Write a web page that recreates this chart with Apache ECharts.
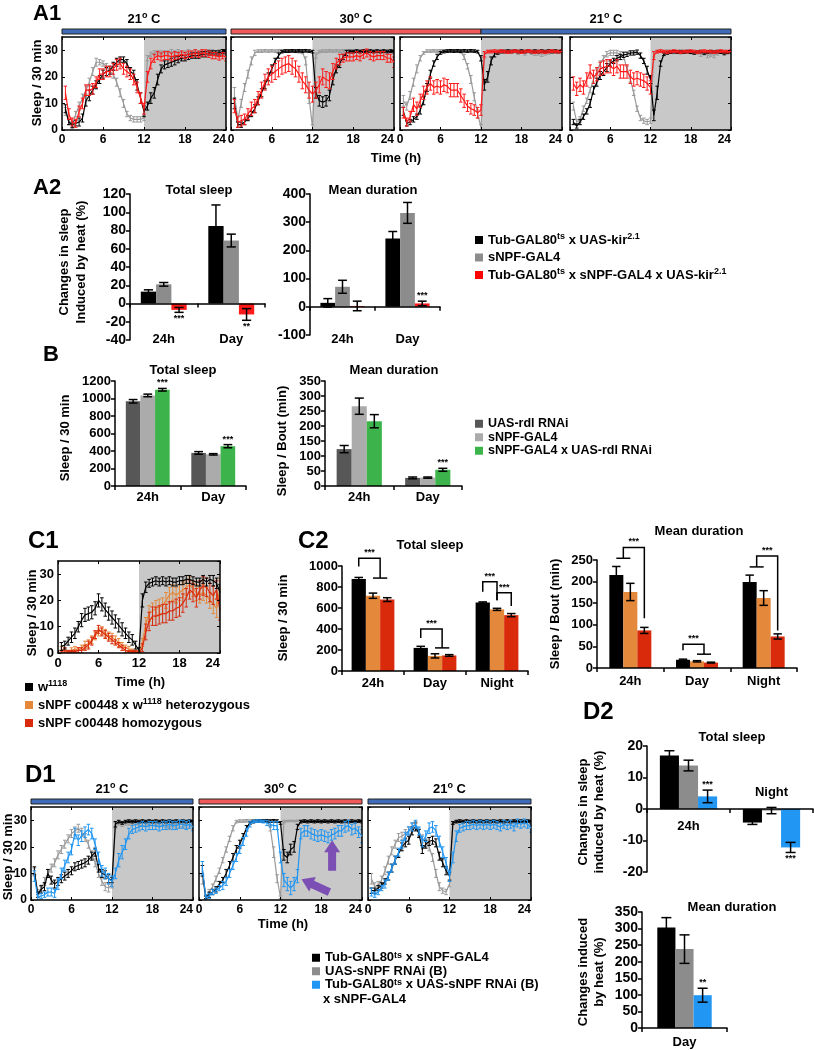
<!DOCTYPE html>
<html>
<head>
<meta charset="utf-8">
<title>sNPF sleep figure</title>
<script src="https://cdn.jsdelivr.net/npm/echarts/dist/echarts.min.js"></script>
<style>
html,body{margin:0;padding:0;background:#fff;}
#chart{width:814px;height:1050px;}
</style>
</head>
<body>
<div id="chart"></div>
<script>
// ======================= DATA =======================
const hours = [0.5,1,1.5,2,2.5,3,3.5,4,4.5,5,5.5,6,6.5,7,7.5,8,8.5,9,9.5,10,10.5,11,11.5,12,12.5,13,13.5,14,14.5,15,15.5,16,16.5,17,17.5,18,18.5,19,19.5,20,20.5,21,21.5,22,22.5,23,23.5,24];

// ---- A1: sleep profiles (4 days) ----
const a1p1Gray  = [7,3,1.5,6,9,12,15,18,22,25.5,25.5,25,24,22,21,18,14,10,6,4.5,4,4,4,4.5,27,28.5,29,29,29,29,29,29.5,29,29.5,29,29,29.5,29,29.5,29,29.5,29,29.5,29.5,29,29.5,29,28.5];
const a1p1GrayE = [1.5,1,1,1,1.5,1.5,1.5,1.5,1.5,1.5,1,1,1,1,1.5,1.5,1.5,1.5,1,1,1,1,1,1,1,0.8,0.8,0.8,0.8,0.8,0.8,0.8,0.8,0.8,0.8,0.8,0.8,0.8,0.8,0.8,0.8,0.8,0.8,0.8,0.8,0.8,0.8,0.8];
const a1p1Black = [8,3,2,2.5,3,4.5,11,13,15,17,19,21,22,22.5,24,25.5,26.5,26.5,25,22,21,17,12,7,9,12,14,19,23,24.5,25,25.5,26,26.5,27,27,27.5,28,28,28,28.5,28.5,29,29,29,29,29.5,29.5];
const a1p1BlackE= [1.5,1,1,1,1.5,1.5,2,2,1.5,1.5,1.5,1.5,1.5,1.5,1.5,1.5,1,1,1.5,1.5,1.5,2,2,2,1.5,2,2,2,1.5,1.5,1.5,1.5,1.5,1.2,1,1,1,1,1,1,1,1,0.8,0.8,0.8,0.8,0.8,0.8];
const a1p1Red   = [14,6,3,2.5,7,10,15,15,15.5,18,21,21,22,22,23,24.5,25,23,22,21,19,16,12,8,20,25,27,28,27.5,28,28,27.5,28,28,28.5,28,28.5,28.5,29,28.5,29,29,28.5,28,28,27.5,28,27.5];
const a1p1RedE  = [2.5,2,1.5,1.5,2,2,2,2,2,2,2,2,2,2,2,2,2,2,2,2,2,2,2,2,2,2,1.5,1.5,1.5,1.5,1.5,1.5,1.5,1.2,1.2,1.2,1.2,1.2,1.2,1.2,1.2,1.2,1.2,1.2,1.2,1.2,1.2,1.5];

const a1p2Gray  = [13,4,10,16,21,26,29,29.7,29.7,29.8,29.7,29.8,29.7,29.8,29.7,29.8,29.7,29.8,29.7,29.5,29.5,26,12,1,28,29.5,29.7,29.7,29.8,29.7,29.8,29.7,29.8,29.7,29.8,29.7,29.8,29.7,29.8,29.7,29.8,29.7,29.8,29.7,29.8,29.7,29.8,29.7];
const a1p2GrayE = [3,1,1.5,1.5,1.5,1.5,1,0.5,0.5,0.5,0.5,0.5,0.5,0.5,0.5,0.5,0.5,0.5,0.5,0.5,0.8,1.5,2,1,1,0.5,0.5,0.5,0.5,0.5,0.5,0.5,0.5,0.5,0.5,0.5,0.5,0.5,0.5,0.5,0.5,0.5,0.5,0.5,0.5,0.5,0.5,0.5];
const a1p2Black = [10,2,2,3,4.5,6,8,11,14,17,20,23,26,28,29.5,29.7,29.7,29.8,29.7,29.8,29.7,29.8,29.7,29.5,14,11,10.5,11,13,19,23,25,27.5,29,29.5,29.5,29.7,29.5,29.7,29.5,29.7,29.5,29.7,29.5,29.7,29.5,29.7,29.5];
const a1p2BlackE= [2,1,1,1,1,1,1.5,1.5,1.5,1.5,1.5,1.5,1,1,0.5,0.5,0.5,0.5,0.5,0.5,0.5,0.5,0.5,0.5,2,2,2,2,2,2,1.5,1.5,1,1,0.5,0.5,0.5,0.5,0.5,0.5,0.5,0.5,0.5,0.5,0.5,0.5,0.5,0.5];
const a1p2Red   = [9,3,3.5,4,6,8,9,12,15,18,20,21,22,23,24,24.5,25,24,23,21,18.5,17,15,13.5,15,17,20,19,18.5,22,25,26.5,27,27.5,27.5,27.5,28,27.5,28.5,29,28,27.5,28,28,28,27,27,25.5];
const a1p2RedE  = [2.5,2,2,2,2,2.5,2.5,2.5,3,3,3,3,3,3,3,3,3,3,3,3,3,3,3,3,3,3,3,3,3,3,2,2,1.5,1.5,1.5,1.5,1.5,1.5,1.5,1.5,1.5,1.5,1.5,1.5,1.5,1.5,1.5,2];

const a1p3Gray  = [11,9,13,18,23,27,29,29.7,29.7,29.8,29.7,29.8,29.7,29.8,29.7,29.8,29.7,29.5,27.5,24,19,12.5,6,1,28,29.5,29.7,29.5,29.7,29.5,29.7,29.5,29.7,29.5,29.2,29.5,29,29.5,29.2,28.8,29,28.5,29,29.3,29.5,29.3,29.5,29.5];
const a1p3GrayE = [2,1.5,1.5,1.5,1.5,1,0.5,0.5,0.5,0.5,0.5,0.5,0.5,0.5,0.5,0.5,0.5,0.5,1,1,1.5,1.5,1.5,1,1,0.5,0.5,0.5,0.5,0.5,0.5,0.5,0.5,0.5,0.8,0.5,0.8,0.5,0.8,0.8,0.8,0.8,0.8,0.8,0.5,0.5,0.5,0.5];
const a1p3Black = [7,2.5,3,4,5,7.5,11,16,21,25,27.5,29,29.5,29.7,29.8,29.7,29.8,29.7,29.8,29.7,29.8,29.7,29.5,27,17,20,26,28.5,29,29.5,29.5,29.7,29.5,29.7,29.5,29.7,29.5,29.7,29.5,29.7,29.5,29.7,29.5,29.7,29.5,29.7,29.5,29.7];
const a1p3BlackE= [1.5,1,1,1,1,1.5,1.5,1.5,1.5,1,1,0.5,0.5,0.5,0.5,0.5,0.5,0.5,0.5,0.5,0.5,0.5,0.5,1,2,2,1.5,1,0.5,0.5,0.5,0.5,0.5,0.5,0.5,0.5,0.5,0.5,0.5,0.5,0.5,0.5,0.5,0.5,0.5,0.5,0.5,0.5];
const a1p3Red   = [6.5,3,5,9.5,8,11,14,16,17.5,16,16.5,16,17,16.5,15,15,15,13,11,9,8,7.5,6.5,7.5,28.5,29.5,29.5,29.7,29.5,29.7,29.5,29.3,29.5,29.7,29.5,29.3,29.5,29.7,29.5,29.3,29.5,29.5,29.3,29.5,29.7,29.5,29.5,29.7];
const a1p3RedE  = [2,1.5,2,2.5,2.5,2.5,2.5,2.5,2.5,2.5,2.5,2.5,2.5,2.5,2.5,2.5,2.5,2.5,2.5,2,2,2,2,2,1,0.5,0.5,0.5,0.5,0.5,0.5,0.5,0.5,0.5,0.5,0.5,0.5,0.5,0.5,0.5,0.5,0.5,0.5,0.5,0.5,0.5,0.5,0.5];

const a1p4Gray  = [9,3,4,8,11,15,19,22,25,27,28.5,29,29,29,28.5,27.5,23,19,14,8,4.5,3.5,3,3.5,28.5,29.5,29.7,29.5,29.7,29.5,29.2,29.5,29,29.5,29.5,29.2,29.5,29,28.5,29,28,28.5,28,29,29.3,29.5,29,29.5];
const a1p4GrayE = [1.5,1,1,1,1,1,1,1,1,1,1,1,1,1,1,1,1,1,1,1,1,1,1,1,1,0.5,0.5,0.5,0.5,0.5,0.5,0.5,0.5,0.5,0.5,0.5,0.5,0.5,0.8,0.8,0.8,0.8,0.8,0.8,0.5,0.5,0.5,0.5];
const a1p4Black = [3,1.5,3,5,7,10,15,18,20.5,22,23.5,25,26,27,27.5,28.3,28.5,29,29,29.3,28,26,22.5,19,5.5,14,25,28.5,29,29.3,29.5,29.3,29.5,29.3,29.5,29.3,29,29.3,29.5,29,29.3,29.5,29.3,29.5,29.3,28.8,29.3,29.5];
const a1p4BlackE= [1,0.8,1,1,1,1.5,1.5,1.5,1.5,1.5,1.5,1,1,1,1,1,0.8,0.8,0.8,0.8,1,1,1.5,1.5,2,2.5,1,0.5,0.5,0.5,0.5,0.5,0.5,0.5,0.5,0.5,0.5,0.5,0.5,0.5,0.5,0.5,0.5,0.5,0.5,0.5,0.5,0.5];
const a1p4Red   = [17.5,15.5,17,16,19,22,20,21,23,23.5,24,24,23,24,22,22,22,20,19,19.5,19,18.5,17.5,16,28,29.5,29.7,29.5,29.3,29.5,29.7,29.5,29.3,29.5,29.5,29.7,29.5,29.3,29.5,29.7,29.5,29.5,29.3,29.5,29.7,29.5,29.5,29.7];
const a1p4RedE  = [2.5,2.5,2.5,2.5,2.5,2.5,2.5,2.5,2.5,2.5,2.5,2.5,2.5,2.5,2.5,2.5,2.5,2.5,2.5,2.5,2.5,2.5,2.5,2.5,1.5,0.5,0.5,0.5,0.5,0.5,0.5,0.5,0.5,0.5,0.5,0.5,0.5,0.5,0.5,0.5,0.5,0.5,0.5,0.5,0.5,0.5,0.5,0.5];

// temperature protocol: [label, panel, hour] -> [panel, hour]
const a1Temps = [['21', 0, 0, 0, 24], ['30', 1, 0, 2, 12], ['21', 2, 12, 3, 24]];
const d1Temps = [['21', 0, 0, 0, 24], ['30', 1, 0, 1, 24], ['21', 2, 0, 2, 24]];

// ---- A2: heat-induced changes (%) ----
const a2Cats = ['24h', 'Day'];
const a2TotBlack = [13, 85],  a2TotBlackErr = [2, 23];
const a2TotGray  = [21, 69],  a2TotGrayErr  = [2, 7];
const a2TotRed   = [-7, -12], a2TotRedErr   = [2.7, 6.4];
const a2TotStars = ['***', '**'];
const a2MeanBlack = [14, 242], a2MeanBlackErr = [15, 25];
const a2MeanGray  = [71, 333], a2MeanGrayErr  = [23, 37];
const a2MeanRed   = [3, 12],   a2MeanRedErr   = [17, 8];
const a2MeanStars = ['', '***'];

// ---- B: rdl RNAi ----
const bCats = ['24h', 'Day'];
const bTotDark  = [968, 378],  bTotDarkErr  = [20, 15];
const bTotLight = [1035, 362], bTotLightErr = [15, 8];
const bTotGreen = [1100, 455], bTotGreenErr = [15, 18];
const bTotStars = ['***', '***'];
const bMeanDark  = [123, 27],  bMeanDarkErr  = [12, 3];
const bMeanLight = [266, 28],  bMeanLightErr = [27, 2];
const bMeanGreen = [216, 54],  bMeanGreenErr = [22, 5];
const bMeanStars = ['', '***'];

// ---- C1: sleep profile of mutants ----
const c1Black  = [2.5,3,4.5,6,7.5,10,12.5,14.5,15,15.5,17,20,18.5,16.5,15,13.5,12,10.5,9,7.5,6,5,3,1,20,25,26.5,27,27.5,27,27.5,27,27.5,27,27,27.5,27.5,28,28,27.5,27,27,28,27,28,27.5,26.5,23];
const c1BlackE = [1.5,1.5,1.5,2,2,2,2.5,2.5,2.5,2.5,2.5,2.5,2.5,2.5,2.5,2.5,2.5,2.5,2.5,2,2,2,1.5,1,2.5,2,1.5,1.5,1.5,1.5,1.5,1.5,1.5,1.5,1.5,1.5,1.5,1.5,1.5,1.5,1.5,1.5,1.5,1.5,1.5,2,2,3];
const c1Orange = [1.5,1,0.5,1,1.5,1,2,3,3.5,5,6.5,8,8.5,7.5,6.5,6,5,4,3,2,1.5,1,0.5,0.5,4,11,15,16,17,17.5,18,20,22,23,22,23,24,25,26,24.5,23,22,23,22,20,18.5,17,25];
const c1OrangeE= [1,1,0.5,1,1,1,1,1.5,1.5,1.5,1.5,1.5,1.5,1.5,1.5,1.5,1.5,1.5,1,1,1,0.5,0.5,0.5,1.5,2.5,3,3,3,3,3,3,3,3,3,3,3,3,3,3,3,3,3,3,3,3.5,3.5,3.5];
const c1Red    = [0.5,1,0.5,0.5,0.5,1,1,2,3,4.5,7,9,8,7,6,5,4,3,2,1,0.5,0.5,0.5,0,2,8,12,14,14,14.5,15,15,16,16,17,17.5,19,21,24,23,21,24,25.5,25,23,22,24,16];
const c1RedE   = [0.5,1,0.5,0.5,0.5,1,1,1,1.5,1.5,1.5,1.5,1.5,1.5,1.5,1.5,1,1,1,1,0.5,0.5,0.5,0.5,1.5,3,3.5,3.5,3.5,3.5,3.5,3.5,3.5,3.5,3.5,3.5,3.5,3.5,3.5,3.5,3.5,3.5,3.5,3.5,3.5,3.5,3.5,3.5];

// ---- C2: mutants totals ----
const c2Cats = ['24h', 'Day', 'Night'];
const c2TotBlack  = [876, 220, 652], c2TotBlackErr  = [15, 15, 6];
const c2TotOrange = [717, 144, 587], c2TotOrangeErr = [25, 20, 10];
const c2TotRed    = [680, 148, 532], c2TotRedErr    = [18, 8, 15];
const c2MeanBlack  = [215, 19, 199],   c2MeanBlackErr  = [20, 1.5, 16];
const c2MeanOrange = [176, 15.5, 162], c2MeanOrangeErr = [20, 1.5, 17];
const c2MeanRed    = [87, 12.5, 73],   c2MeanRedErr    = [7, 1, 6];
// significance brackets: [category, left-leg end, bracket top, right-leg end]
const c2TotBrackets  = [[0, 995, 1075, 885], [1, 315, 400, 220], [2, 755, 850, 675], [2, 675, 745, 618]];
const c2TotSides     = [[[0], [1, 2]], [[0], [1, 2]], [[0], [1]], [[1], [2]]];
const c2MeanBrackets = [[0, 254, 279, 115], [1, 41, 55, 32], [2, 234, 259, 87]];
const c2MeanSides    = [[[0, 1], [2]], [[0], [1, 2]], [[0, 1], [2]]];

// ---- D1: sleep profiles with sNPF RNAi ----
const d1p1Gray  = [10.5,3,4,7,10,12,14,17,19,21,23,25,26,27,25.5,23.5,21,17,14,10,7,5,4.5,6,28,29,28.5,29,29,29,29.2,29,28.8,29,29.2,29,28.5,29,28.5,28,27.5,28.5,28,28.5,28.5,28,28.5,27.5];
const d1p1GrayE = [1.5,1,1,1.5,1.5,1.5,1.5,1.5,1.5,1.5,1.5,1.5,1.5,1.5,1.5,1.5,1.5,1.5,1.5,1.5,1.5,1.5,1.5,1.5,1,0.8,0.8,0.8,0.8,0.8,0.8,0.8,0.8,0.8,0.8,0.8,0.8,0.8,0.8,0.8,1,1,1,1,1,1,1,1];
const d1p1Black = [11,2,4,5,10,7.5,6,7,8,9,10,11,12.5,13,13.5,14,15,16.5,18,12,10,9.5,8,7.5,28.5,29.5,29,29.5,29.7,29.5,29.7,29.5,29.7,29.5,29.7,29.5,29.7,29.5,29.7,29.5,29.7,29.5,29.7,29.5,29.7,29.5,29.7,29.5];
const d1p1BlackE= [1.5,1,1.5,1.5,1.5,1.5,1.5,1.5,1.5,1.5,1.5,1.5,1.5,1.5,1.5,1.5,1.5,1.5,1.5,1.5,1.5,1.5,1.5,1,1,0.5,0.5,0.5,0.5,0.5,0.5,0.5,0.5,0.5,0.5,0.5,0.5,0.5,0.5,0.5,0.5,0.5,0.5,0.5,0.5,0.5,0.5,0.5];
const d1p1Blue  = [9,1,1.5,2,3,3,2.5,6,10,13,16,19,25,22.5,24,25.5,26.5,25,21,16,11,10,8,7,10,15,18,21,25,26.5,27,27.5,28,27.5,28,28,28,27.5,28,28,28.5,28,28,28.5,28.5,28,28.5,27.5];
const d1p1BlueE = [2,1,1,1,1.5,1.5,1.5,2,2,2,2,2,2,2,2,2,2,2,2,2,2,2,2,2,2,2.5,2.5,2,2,1.5,1.5,1.5,1.5,1.5,1.5,1.5,1.5,1.5,1.5,1.5,1.5,1.5,1.5,1.5,1.5,1.5,1.5,1.5];

const d1p2Gray  = [8,1,3,5,8,11,15,19,23,27,29.5,29.7,29.7,29.8,29.7,29.8,29.7,29.8,29.7,29.8,27,18,8,1,29.5,29.7,29.8,29.7,29.8,29.7,29.8,29.7,29.8,29.7,29.8,29.7,29.8,29.7,29.8,29.7,29.8,29.7,29.8,29.7,29.8,29.7,29.8,29.7];
const d1p2GrayE = [2,0.5,1,1,1,1,1,1,1,1,0.5,0.5,0.5,0.5,0.5,0.5,0.5,0.5,0.5,0.5,1,2,1.5,0.5,0.5,0.3,0.3,0.3,0.3,0.3,0.3,0.3,0.3,0.3,0.3,0.3,0.3,0.3,0.3,0.3,0.3,0.3,0.3,0.3,0.3,0.3,0.3,0.3];
const d1p2Black = [11,1,2,3,4,6,7.5,10,13,16,19,21,24,27,29,29.5,29.7,29.8,29.7,29.8,29.7,29.8,29.7,29,17,16,19,20,27.5,29.5,29.7,29.5,29.7,29.5,29.7,29.5,29.7,29.5,29.7,29.5,29.7,29.5,29.7,29.5,29.7,29.5,29.7,29.5];
const d1p2BlackE= [2,0.5,1,1,1,1,1,1.5,1.5,1.5,1.5,1.5,1,1,0.5,0.5,0.5,0.5,0.5,0.5,0.5,0.5,0.5,0.5,2,2,2,2,1,0.5,0.5,0.5,0.5,0.5,0.5,0.5,0.5,0.5,0.5,0.5,0.5,0.5,0.5,0.5,0.5,0.5,0.5,0.5];
const d1p2Blue  = [12,1,1.5,3,3.5,4.5,5.5,7,10,13,16,19,22,25.5,28.5,29.5,29.7,29.7,29.5,29,28.5,28,28,16,7.5,6,4.5,6,9,25,26,26,25,24.5,24,24.5,24,23.5,24.5,25,26,26,27.5,28,26.5,27,25.5,24];
const d1p2BlueE = [2.5,1,1,1,1,1,1.5,1.5,1.5,1.5,1.5,1.5,1.5,1.5,1,0.5,0.5,0.5,0.5,1,1,1.5,1.5,2,2.5,2.5,2.5,2.5,2.5,2,2,2,2,2,2,2,2,2,2,2,2,2,2,2,2,2,2,2.5];
// purple arrows (tail hour, tail value, head hour, head value)
const d1Arrows = [[19.6, 11, 19.6, 22.5], [19.2, 3, 15.1, 7.8]];

const d1p3Gray  = [8,5,5.5,7.5,11,15,18.5,21,23.5,24,25,26,27.5,28.5,25.5,23,21.5,20,16,10,5,3.5,3,6,29,29.5,29.7,29.5,29.7,29.5,29.7,29.5,29.7,29.5,29.7,29.5,29.7,29.5,29.7,29.5,29.7,29.5,29.7,29.5,29.7,29.5,29.7,29.5];
const d1p3GrayE = [2,1.5,1.5,1.5,1.5,1.5,1.5,1.5,1.5,1.5,1.5,1.5,1.5,1,1.5,1.5,1.5,1.5,1.5,1.5,1.5,1,1,1,0.5,0.5,0.5,0.5,0.5,0.5,0.5,0.5,0.5,0.5,0.5,0.5,0.5,0.5,0.5,0.5,0.5,0.5,0.5,0.5,0.5,0.5,0.5,0.5];
const d1p3Black = [3.5,3.5,4.5,5.5,7,9,12,15,17.5,20,21.5,22.5,26,27.5,25,19,21,22,22.5,21.5,16.5,14,11,9,29,29.5,29.7,29.5,29.7,29.5,29.7,29.5,29.7,29.5,29.7,29.5,29.7,29.5,29.7,29.5,29.7,29.5,29.7,29.5,29.7,29.5,29.7,29.5];
const d1p3BlackE= [1,1,1,1,1,1.5,1.5,1.5,1.5,1.5,1.5,1.5,1.5,1.5,1.5,1.5,1.5,1.5,1.5,1.5,1.5,1.5,1.5,1.5,0.5,0.5,0.5,0.5,0.5,0.5,0.5,0.5,0.5,0.5,0.5,0.5,0.5,0.5,0.5,0.5,0.5,0.5,0.5,0.5,0.5,0.5,0.5,0.5];
const d1p3Blue  = [3,2,3,4.5,6,9,12,15,18,21,24,26,27.5,28.5,26,22,24,27,27.5,26,22,18,14,9,16,24,27,27.5,28,28,28.5,28,28.5,28,28.5,28,28.5,28,27.5,28.5,28,28.5,27.5,29,28.5,29,28.5,27];
const d1p3BlueE = [1.5,1,1,1,1.5,1.5,1.5,1.5,1.5,1.5,1.5,1.5,1.5,1.5,1.5,2,2,2,2,2,2,2,2,2,2,2,1.5,1.5,1.5,1.5,1.5,1.5,1.5,1.5,1.5,1.5,1.5,1.5,1.5,1.5,1.5,1.5,1.5,1.5,1.5,1.5,1.5,1.5];

// ---- D2: heat-induced changes ----
const d2TotCats = ['24h', 'Night'];
const d2TotBlack = [17, -4.3],  d2TotBlackErr = [1.5, 0.6];
const d2TotGray  = [13.8, -0.5], d2TotGrayErr = [1.7, 1];
const d2TotBlue  = [4, -12.2],  d2TotBlueErr  = [2, 1.6];
const d2TotStars = ['***', '***'];
const d2MeanCats = ['Day'];
const d2MeanBlack = [303], d2MeanBlackErr = [30];
const d2MeanGray  = [238], d2MeanGrayErr  = [43];
const d2MeanBlue  = [99],  d2MeanBlueErr  = [21];
const d2MeanStars = ['**'];

// ---- genotype names ----
const N_A_CTRL = 'Tub-GAL80ts x UAS-kir2.1';
const N_GAL4   = 'sNPF-GAL4';
const N_A_EXP  = 'Tub-GAL80ts x sNPF-GAL4 x UAS-kir2.1';
const N_B_CTRL = 'UAS-rdl RNAi';
const N_B_EXP  = 'sNPF-GAL4 x UAS-rdl RNAi';
const N_C_WT   = 'w1118';
const N_C_HET  = 'sNPF c00448 x w1118 heterozygous';
const N_C_HOM  = 'sNPF c00448 homozygous';
const N_D_CTRL = 'Tub-GAL80ts x sNPF-GAL4';
const N_D_RNAI = 'UAS-sNPF RNAi (B)';
const N_D_EXP  = 'Tub-GAL80ts x UAS-sNPF RNAi (B) x sNPF-GAL4';

// ======================= STYLE / BUILD =======================
const FONT = '"Liberation Sans", Arial, Helvetica, sans-serif';
const AX = {color: '#000', width: 1.5};
const COL = {black: '#000000', gray: '#9a9a9a', barGray: '#8c8c8c', red: '#ff1a1a',
  dark: '#575757', light: '#ababab', green: '#3cb44b', orange: '#e4883b', cred: '#d92b0c', blue: '#2196f3'};
const plain = v => String(v);

const richLabel = {};
richLabel[N_A_CTRL] = 'Tub-GAL80{sup|ts} x UAS-kir{sup|2.1}';
richLabel[N_A_EXP]  = 'Tub-GAL80{sup|ts} x sNPF-GAL4 x UAS-kir{sup|2.1}';
richLabel[N_C_WT]   = 'w{sup|1118}';
richLabel[N_C_HET]  = 'sNPF c00448 x w{sup|1118} heterozygous';
richLabel[N_D_CTRL] = 'Tub-GAL80{sup|ts} x sNPF-GAL4';
richLabel[N_D_EXP]  = 'Tub-GAL80{sup|ts} x UAS-sNPF RNAi (B)';

const grids = [], xAxes = [], yAxes = [], series = [], legends = [];

function lineErr(color) {
  return function (params, api) {
    const x = api.value(0), v = api.value(1), e = api.value(2);
    const a = api.coord([x, v + e]), b = api.coord([x, v - e]);
    const cw = 1.8;
    const st = () => ({stroke: color, lineWidth: 1});
    return {type: 'group', children: [
      {type: 'line', shape: {x1: a[0], y1: a[1], x2: b[0], y2: b[1]}, style: st()},
      {type: 'line', shape: {x1: a[0] - cw, y1: a[1], x2: a[0] + cw, y2: a[1]}, style: st()},
      {type: 'line', shape: {x1: b[0] - cw, y1: b[1], x2: b[0] + cw, y2: b[1]}, style: st()}
    ]};
  };
}

function linePanel(box, showY, fs, traces) {
  const gi = grids.length;
  grids.push({left: box[0], top: box[1], width: box[2], height: box[3], show: false, containLabel: false, outerBoundsMode: 'none'});
  const xi = xAxes.length, yi = yAxes.length;
  const tick = {show: true, inside: true, length: 3, lineStyle: {color: '#000', width: 1}};
  const xb = {type: 'value', gridIndex: gi, min: 0, max: 24, interval: 6, z: 5, splitLine: {show: false},
    axisLine: {show: true, onZero: false, lineStyle: AX}, axisTick: tick};
  xAxes.push(Object.assign({}, xb, {position: 'bottom',
    axisLabel: {show: true, color: '#000', fontSize: fs, fontWeight: 'bold', fontFamily: FONT, margin: 4, alignMaxLabel: 'right', formatter: plain}}));
  xAxes.push(Object.assign({}, xb, {position: 'top', axisLabel: {show: false}}));
  const yb = {type: 'value', gridIndex: gi, min: 0, max: 35, interval: 10, z: 5, splitLine: {show: false},
    axisLine: {show: true, onZero: false, lineStyle: AX}, axisTick: tick};
  yAxes.push(Object.assign({}, yb, {position: 'left',
    axisLabel: {show: showY, color: '#000', fontSize: fs, fontWeight: 'bold', fontFamily: FONT, margin: 4, showMaxLabel: false, formatter: plain}}));
  yAxes.push(Object.assign({}, yb, {position: 'right', axisLabel: {show: false}}));
  traces.forEach(function (tr, k) {
    const s = {type: 'line', xAxisIndex: xi, yAxisIndex: yi, data: hours.map((h, i) => [h, tr.v[i]]),
      symbol: 'none', showSymbol: false, lineStyle: {color: tr.c, width: 1.2}, itemStyle: {color: tr.c}, z: 3 + k, silent: true};
    if (k === 0) s.markArea = {silent: true, itemStyle: {color: '#c8c8c8'}, data: [[{xAxis: 12}, {xAxis: 24}]]};
    series.push(s);
    series.push({type: 'custom', xAxisIndex: xi, yAxisIndex: yi, z: 3 + k, silent: true, clip: true,
      data: hours.map((h, i) => [h, tr.v[i], tr.e[i]]), renderItem: lineErr(tr.c)});
  });
  return {gi: gi, xi: xi, yi: yi};
}

function barErr(n, gap, meta, starSize) {
  return function (params, api) {
    const m = meta[params.dataIndex];
    const i = api.value(0), v = api.value(1), e = api.value(2);
    const band = api.size([1, 0])[0];
    const bw = band * (1 - gap) / n;
    const x = api.coord([i, 0])[0] + (m.k - (n - 1) / 2) * bw;
    const yt = api.coord([i, v + e])[1], yb = api.coord([i, v - e])[1];
    const cw = Math.min(bw * 0.3, 5);
    const st = () => ({stroke: '#000', lineWidth: 1.5});
    const ch = [
      {type: 'line', shape: {x1: x, y1: yt, x2: x, y2: yb}, style: st()},
      {type: 'line', shape: {x1: x - cw, y1: yt, x2: x + cw, y2: yt}, style: st()},
      {type: 'line', shape: {x1: x - cw, y1: yb, x2: x + cw, y2: yb}, style: st()}
    ];
    if (m.star) {
      ch.push({type: 'text', x: x, y: m.up ? yt - 1 : yb + 2, style: {text: m.star, fill: '#000',
        font: 'bold ' + starSize + 'px ' + FONT, align: 'center', textAlign: 'center',
        verticalAlign: m.up ? 'bottom' : 'top', textVerticalAlign: m.up ? 'bottom' : 'top'}});
    }
    return {type: 'group', children: ch};
  };
}

function bracketRender(n, gap, sides) {
  return function (params, api) {
    const sd = sides[params.dataIndex];
    const cat = api.value(0);
    const band = api.size([1, 0])[0];
    const bw = band * (1 - gap) / n;
    const c0 = api.coord([cat, 0])[0];
    const xc = k => c0 + (k - (n - 1) / 2) * bw;
    const grp = arr => (xc(arr[0]) + xc(arr[arr.length - 1])) / 2;
    const xl = grp(sd[0]), xr = grp(sd[1]);
    const yl = api.coord([cat, api.value(1)])[1], yt = api.coord([cat, api.value(2)])[1], yr = api.coord([cat, api.value(3)])[1];
    const st = () => ({stroke: '#000', lineWidth: 1.5, fill: null});
    const ch = [{type: 'polyline', shape: {points: [[xl, yl], [xl, yt], [xr, yt], [xr, yr]]}, style: st()}];
    if (sd[0].length > 1) ch.push({type: 'line', shape: {x1: xc(sd[0][0]), y1: yl, x2: xc(sd[0][sd[0].length - 1]), y2: yl}, style: st()});
    if (sd[1].length > 1) ch.push({type: 'line', shape: {x1: xc(sd[1][0]), y1: yr, x2: xc(sd[1][sd[1].length - 1]), y2: yr}, style: st()});
    ch.push({type: 'text', x: (xl + xr) / 2, y: yt - 1, style: {text: '***', fill: '#000', font: 'bold 9px ' + FONT,
      align: 'center', textAlign: 'center', verticalAlign: 'bottom', textVerticalAlign: 'bottom'}});
    return {type: 'group', children: ch};
  };
}

function barChart(cfg) {
  const gi = grids.length;
  grids.push({left: cfg.box[0], top: cfg.box[1], width: cfg.box[2], height: cfg.box[3], show: false, containLabel: false, outerBoundsMode: 'none'});
  const xa = xAxes.length;
  const lab = {color: '#000', fontSize: 13, fontWeight: 'bold', fontFamily: FONT};
  const base = {type: 'category', gridIndex: gi, data: cfg.cats, z: 5, splitLine: {show: false}};
  const mainLine = {show: true, onZero: true, lineStyle: AX};
  const mainTick = {show: true, length: 4, lineStyle: AX};
  if (cfg.mode === 'normal') {
    xAxes.push(Object.assign({}, base, {position: 'bottom', axisLine: mainLine, axisTick: mainTick,
      axisLabel: Object.assign({margin: cfg.lm}, lab)}));
  } else if (cfg.mode === 'bottom') {
    xAxes.push(Object.assign({}, base, {position: 'bottom', axisLine: mainLine, axisTick: mainTick, axisLabel: {show: false}}));
    xAxes.push(Object.assign({}, base, {position: 'bottom', axisLine: {show: false, onZero: false}, axisTick: {show: false},
      axisLabel: Object.assign({margin: cfg.lm}, lab)}));
  } else {
    xAxes.push(Object.assign({}, base, {position: 'bottom', axisLine: mainLine, axisTick: mainTick, axisLabel: {show: false}}));
  }
  const ya = yAxes.length;
  yAxes.push({type: 'value', gridIndex: gi, min: cfg.min, max: cfg.max, interval: cfg.interval, z: 5, position: 'left',
    splitLine: {show: false}, axisLine: {show: true, onZero: false, lineStyle: AX}, axisTick: {show: true, length: 4, lineStyle: AX},
    axisLabel: {color: '#000', fontSize: cfg.yfs, fontWeight: 'bold', fontFamily: FONT, margin: 4, formatter: plain}});
  const n = cfg.groups.length;
  cfg.groups.forEach(function (g) {
    series.push({type: 'bar', name: g.name, xAxisIndex: xa, yAxisIndex: ya, data: g.v, barGap: '0%',
      barCategoryGap: Math.round(cfg.gap * 100) + '%', itemStyle: {color: g.c}, z: 2, silent: true});
  });
  const meta = [], data = [];
  cfg.groups.forEach(function (g, k) {
    g.v.forEach(function (v, i) {
      data.push([i, v, g.e[i]]);
      meta.push({k: k, star: g.s ? g.s[i] : '', up: g.up ? g.up[i] : true});
    });
  });
  series.push({type: 'custom', xAxisIndex: xa, yAxisIndex: ya, z: 4, silent: true, clip: false, data: data,
    renderItem: barErr(n, cfg.gap, meta, cfg.sfs || 9)});
  if (cfg.brackets) {
    series.push({type: 'custom', xAxisIndex: xa, yAxisIndex: ya, z: 4, silent: true, clip: false, data: cfg.brackets,
      renderItem: bracketRender(n, cfg.gap, cfg.sides)});
  }
  if (cfg.mode === 'split') {
    // category labels placed next to the zero line: below for first, above for second
    series.push({type: 'custom', xAxisIndex: xa, yAxisIndex: ya, z: 6, silent: true, clip: false,
      data: cfg.cats.map((c, i) => [i, 0]),
      renderItem: function (params, api) {
        const i = params.dataIndex;
        const p = api.coord([i, 0]);
        const below = cfg.sideBelow[i];
        return {type: 'text', x: p[0], y: below ? p[1] + cfg.lm : p[1] - cfg.lm2,
          style: {text: cfg.cats[i], fill: '#000', font: 'bold 13px ' + FONT, align: 'center', textAlign: 'center',
            verticalAlign: below ? 'top' : 'bottom', textVerticalAlign: below ? 'top' : 'bottom'}};
      }});
  }
  return gi;
}

function addLegend(left, top, lh, gap, fs, items) {
  legends.push({left: left, top: top, orient: 'vertical', icon: 'rect', itemWidth: 8, itemHeight: 8, itemGap: gap,
    selectedMode: false, padding: 0,
    data: items.map(it => ({name: it[0], itemStyle: {color: it[1], borderWidth: 0}})),
    formatter: nm => (richLabel[nm] || nm),
    textStyle: {fontFamily: FONT, fontSize: fs, fontWeight: 'bold', color: '#000', lineHeight: lh,
      rich: {sup: {fontFamily: FONT, fontSize: 9, fontWeight: 'bold', color: '#000', verticalAlign: 'top', lineHeight: 9}}}});
}

// ---------- A2 (bar charts first so legends pick bar icons) ----------
barChart({box: [130, 194, 135, 146], cats: a2Cats, min: -40, max: 120, interval: 20, gap: 0.32, mode: 'bottom', lm: -7, yfs: 14,
  groups: [
    {name: N_A_CTRL, c: COL.black, v: a2TotBlack, e: a2TotBlackErr},
    {name: N_GAL4, c: COL.barGray, v: a2TotGray, e: a2TotGrayErr},
    {name: N_A_EXP, c: COL.red, v: a2TotRed, e: a2TotRedErr, s: a2TotStars, up: [false, false]}]});
barChart({box: [310, 194, 130, 141], cats: a2Cats, min: -100, max: 400, interval: 100, gap: 0.32, mode: 'bottom', lm: -2, yfs: 14,
  groups: [
    {name: N_A_CTRL, c: COL.black, v: a2MeanBlack, e: a2MeanBlackErr},
    {name: N_GAL4, c: COL.barGray, v: a2MeanGray, e: a2MeanGrayErr},
    {name: N_A_EXP, c: COL.red, v: a2MeanRed, e: a2MeanRedErr, s: a2MeanStars, up: [true, true]}]});
// ---------- B ----------
barChart({box: [115, 381, 131, 105], cats: bCats, min: 0, max: 1200, interval: 200, gap: 0.33, mode: 'normal', lm: 5, yfs: 13,
  groups: [
    {name: N_B_CTRL, c: COL.dark, v: bTotDark, e: bTotDarkErr},
    {name: N_GAL4, c: COL.light, v: bTotLight, e: bTotLightErr},
    {name: N_B_EXP, c: COL.green, v: bTotGreen, e: bTotGreenErr, s: bTotStars}]});
barChart({box: [325, 381, 137, 105], cats: bCats, min: 0, max: 350, interval: 50, gap: 0.34, mode: 'normal', lm: 5, yfs: 13,
  groups: [
    {name: N_B_CTRL, c: COL.dark, v: bMeanDark, e: bMeanDarkErr},
    {name: N_GAL4, c: COL.light, v: bMeanLight, e: bMeanLightErr},
    {name: N_B_EXP, c: COL.green, v: bMeanGreen, e: bMeanGreenErr, s: bMeanStars}]});
// ---------- C2 ----------
barChart({box: [342, 566, 186, 105], cats: c2Cats, min: 0, max: 1000, interval: 200, gap: 0.31, mode: 'normal', lm: 6, yfs: 13,
  brackets: c2TotBrackets, sides: c2TotSides,
  groups: [
    {name: N_C_WT, c: COL.black, v: c2TotBlack, e: c2TotBlackErr},
    {name: N_C_HET, c: COL.orange, v: c2TotOrange, e: c2TotOrangeErr},
    {name: N_C_HOM, c: COL.cred, v: c2TotRed, e: c2TotRedErr}]});
barChart({box: [597, 560, 200, 108], cats: c2Cats, min: 0, max: 250, interval: 50, gap: 0.37, mode: 'normal', lm: 7, yfs: 13,
  brackets: c2MeanBrackets, sides: c2MeanSides,
  groups: [
    {name: N_C_WT, c: COL.black, v: c2MeanBlack, e: c2MeanBlackErr},
    {name: N_C_HET, c: COL.orange, v: c2MeanOrange, e: c2MeanOrangeErr},
    {name: N_C_HOM, c: COL.cred, v: c2MeanRed, e: c2MeanRedErr}]});
// ---------- D2 ----------
barChart({box: [647, 746, 166, 126], cats: d2TotCats, min: -20, max: 20, interval: 10, gap: 0.31, mode: 'split', lm: 11, lm2: 10, yfs: 14,
  sideBelow: [true, false],
  groups: [
    {name: N_D_CTRL, c: COL.black, v: d2TotBlack, e: d2TotBlackErr},
    {name: N_D_RNAI, c: COL.barGray, v: d2TotGray, e: d2TotGrayErr},
    {name: N_D_EXP, c: COL.blue, v: d2TotBlue, e: d2TotBlueErr, s: d2TotStars, up: [true, false]}]});
barChart({box: [642, 912, 85, 116], cats: d2MeanCats, min: 0, max: 350, interval: 50, gap: 0.36, mode: 'normal', lm: 8, yfs: 14,
  groups: [
    {name: N_D_CTRL, c: COL.black, v: d2MeanBlack, e: d2MeanBlackErr},
    {name: N_D_RNAI, c: COL.barGray, v: d2MeanGray, e: d2MeanGrayErr},
    {name: N_D_EXP, c: COL.blue, v: d2MeanBlue, e: d2MeanBlueErr, s: d2MeanStars}]});

// ---------- A1 line panels ----------
const tA = (g, b, r) => [{c: COL.gray, v: g[0], e: g[1]}, {c: COL.black, v: b[0], e: b[1]}, {c: COL.red, v: r[0], e: r[1]}];
const A1 = [
  linePanel([62, 37, 164, 93], true, 12, tA([a1p1Gray, a1p1GrayE], [a1p1Black, a1p1BlackE], [a1p1Red, a1p1RedE])),
  linePanel([231, 37, 163, 93], false, 12, tA([a1p2Gray, a1p2GrayE], [a1p2Black, a1p2BlackE], [a1p2Red, a1p2RedE])),
  linePanel([400, 37, 162, 93], false, 12, tA([a1p3Gray, a1p3GrayE], [a1p3Black, a1p3BlackE], [a1p3Red, a1p3RedE])),
  linePanel([570, 37, 161, 93], false, 12, tA([a1p4Gray, a1p4GrayE], [a1p4Black, a1p4BlackE], [a1p4Red, a1p4RedE]))
];
// ---------- C1 ----------
linePanel([58, 561, 162, 92], true, 13, [
  {c: COL.orange, v: c1Orange, e: c1OrangeE}, {c: COL.cred, v: c1Red, e: c1RedE}, {c: COL.black, v: c1Black, e: c1BlackE}]);
// ---------- D1 ----------
const tD = (g, b, u) => [{c: COL.gray, v: g[0], e: g[1]}, {c: COL.black, v: b[0], e: b[1]}, {c: COL.blue, v: u[0], e: u[1]}];
const D1 = [
  linePanel([31, 807, 162, 93], true, 12, tD([d1p1Gray, d1p1GrayE], [d1p1Black, d1p1BlackE], [d1p1Blue, d1p1BlueE])),
  linePanel([199, 807, 163, 93], false, 12, tD([d1p2Gray, d1p2GrayE], [d1p2Black, d1p2BlackE], [d1p2Blue, d1p2BlueE])),
  linePanel([368, 807, 163, 93], false, 12, tD([d1p3Gray, d1p3GrayE], [d1p3Black, d1p3BlackE], [d1p3Blue, d1p3BlueE]))
];
// arrows in D1 panel 2
series.push({type: 'custom', xAxisIndex: D1[1].xi, yAxisIndex: D1[1].yi, z: 8, silent: true, clip: false, data: d1Arrows,
  renderItem: function (params, api) {
    const p1 = api.coord([api.value(0), api.value(1)]), p2 = api.coord([api.value(2), api.value(3)]);
    const dx = p2[0] - p1[0], dy = p2[1] - p1[1], L = Math.hypot(dx, dy), ux = dx / L, uy = dy / L, nx = -uy, ny = ux;
    const sw = 4, hw = 8, hl = 12;
    const bx = p1[0] + ux * (L - hl), by = p1[1] + uy * (L - hl);
    const pts = [[p1[0] + nx * sw, p1[1] + ny * sw], [bx + nx * sw, by + ny * sw], [bx + nx * hw, by + ny * hw], [p2[0], p2[1]],
      [bx - nx * hw, by - ny * hw], [bx - nx * sw, by - ny * sw], [p1[0] - nx * sw, p1[1] - ny * sw]];
    return {type: 'polygon', shape: {points: pts}, style: {fill: '#7b4fb3'}};
  }});

// ---------- legends ----------
addLegend(475, 232, 16, 1.5, 13, [[N_A_CTRL, COL.black], [N_GAL4, COL.barGray], [N_A_EXP, '#ff0000']]);
addLegend(475, 417, 13.5, 0, 12.5, [[N_B_CTRL, COL.dark], [N_GAL4, COL.light], [N_B_EXP, COL.green]]);
addLegend(25, 679, 16, 2, 13, [[N_C_WT, COL.black], [N_C_HET, COL.orange], [N_C_HOM, COL.cred]]);
addLegend(312, 951, 13.5, 0, 13, [[N_D_CTRL, COL.black], [N_D_RNAI, COL.barGray], [N_D_EXP, COL.blue]]);

const option = {
  animation: false,
  backgroundColor: '#fff',
  textStyle: {fontFamily: FONT, fontWeight: 'bold', color: '#000'},
  grid: grids, xAxis: xAxes, yAxis: yAxes, series: series, legend: legends
};

const chart = echarts.init(document.getElementById('chart'), null, {renderer: 'canvas'});
chart.setOption(option);

// ---------- text & temperature bars ----------
const G = [];
function txt(t, x, y, size, align, rot, lh) {
  const el = {type: 'text', x: x, y: y, style: {text: t, fill: '#000', font: 'bold ' + size + 'px ' + FONT,
    align: align, textAlign: align, verticalAlign: 'middle', textVerticalAlign: 'middle', lineHeight: lh || size + 3,
    rich: {s: {fontSize: 9, fontWeight: 'bold', fontFamily: FONT, verticalAlign: 'top', lineHeight: 9, fill: '#000'}}}};
  if (rot) el.rotation = Math.PI / 2;
  G.push(el);
}
[['A1', 33, 14, 22], ['A2', 33, 188, 22], ['B', 43, 355, 22], ['C1', 28, 541, 24], ['C2', 298, 541, 24], ['D1', 25, 775, 24], ['D2', 583, 712, 24]]
  .forEach(a => txt(a[0], a[1], a[2], a[3], 'left'));
[['Time (h)', 396, 158], ['Time (h)', 140, 682], ['Time (h)', 283, 924],
 ['Total sleep', 199, 190], ['Mean duration', 373, 190], ['Total sleep', 183, 370], ['Mean duration', 394, 370],
 ['Total sleep', 430, 545], ['Mean duration', 699, 531], ['Total sleep', 732, 737], ['Mean duration', 732, 907]]
  .forEach(a => txt(a[0], a[1], a[2], 13, 'center'));
[['Sleep / 30 min', 37.5, 83], ['Sleep / 30 min', 65, 438], ['Sleep / Bout (min)', 282, 441], ['Sleep / 30 min', 32, 613],
 ['Sleep / 30 min', 283, 618], ['Sleep / Bout (min)', 555, 614], ['Sleep / 30 min', 8, 857]]
  .forEach(a => txt(a[0], a[1], a[2], 13, 'center', true));
txt('Changes in sleep\nInduced by heat (%)', 73, 262, 13, 'center', true, 16.5);
txt('Changes in sleep\ninduced by heat (%)', 591, 812, 13, 'center', true, 16);
txt('Changes induced\nby heat (%)', 591, 972, 13, 'center', true, 16);
txt('x sNPF-GAL4', 323, 999, 13, 'left');

function tempBars(list, panels) {
  list.forEach(function (t) {
    const p0 = panels[t[1]], p1 = panels[t[3]];
    const x0 = chart.convertToPixel({gridIndex: p0.gi}, [t[2], 0])[0];
    const x1 = chart.convertToPixel({gridIndex: p1.gi}, [t[4], 0])[0];
    const top = grids[p0.gi].top;
    G.push({type: 'rect', shape: {x: x0, y: top - 8, width: x1 - x0, height: 5},
      style: {fill: t[0] === '30' ? '#f05a5a' : '#3f6bb8', stroke: '#222', lineWidth: 1}});
    txt(t[0] + '{s|o} C', (x0 + x1) / 2, top - 18, 13, 'center');
  });
}
tempBars(a1Temps, A1);
tempBars(d1Temps, D1);

chart.setOption({graphic: {elements: G}});
</script>
</body>
</html>
